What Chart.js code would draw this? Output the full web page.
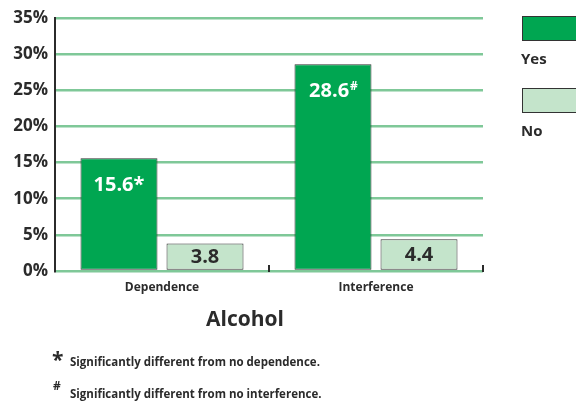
<!DOCTYPE html>
<html>
<head>
<meta charset="utf-8">
<script src="https://cdn.jsdelivr.net/npm/chart.js@4.4.1/dist/chart.umd.min.js"></script>
<style>
  html, body { margin: 0; padding: 0; background: #fff; }
  #wrap { position: relative; width: 576px; height: 402px; }
</style>
</head>
<body>
<div id="wrap"><canvas id="alcohol-chart"></canvas></div>
<script>
// categories and percentages
var categories = ['Dependence', 'Interference'];
var yesValues = [15.6, 28.6];
var noValues = [3.8, 4.4];
var yesMarks = ['*', '#'];
var seriesNames = ['Yes', 'No'];
var yTicks = [0, 5, 10, 15, 20, 25, 30, 35];
var footnotes = [
    ['*', 'Significantly different from no dependence.'],
    ['#', 'Significantly different from no interference.']
];

var FONT = "'Open Sans', sans-serif";
var DARK = '#2b2b2b';
var GREEN = '#00a651';
var PALE = '#c4e4cb';
var GRID = '#7fc898';

// value labels inside the bars
var barLabels = {
    id: 'barLabels',
    afterDatasetsDraw: function (chart) {
        var ctx = chart.ctx;
        ctx.save();
        ctx.textAlign = 'center';
        chart.data.datasets.forEach(function (ds, di) {
            chart.getDatasetMeta(di).data.forEach(function (bar, i) {
                var val = ds.data[i].toFixed(1);
                if (di === 0) {
                    var y = bar.y + 33;
                    ctx.font = 'bold 20px ' + FONT;
                    ctx.fillStyle = '#fff';
                    ctx.textBaseline = 'alphabetic';
                    var mark = yesMarks[i];
                    if (mark === '#') {
                        var w = ctx.measureText(val).width;
                        ctx.font = 'bold 12px ' + FONT;
                        var mw = ctx.measureText(mark).width;
                        var x0 = bar.x - (w + mw) / 2;
                        ctx.textAlign = 'left';
                        ctx.font = 'bold 20px ' + FONT;
                        ctx.fillText(val, x0, y);
                        ctx.font = 'bold 12px ' + FONT;
                        ctx.fillText(mark, x0 + w + 1, y - 7);
                        ctx.textAlign = 'center';
                    } else {
                        ctx.fillText(val + mark, bar.x, y);
                    }
                } else {
                    ctx.font = 'bold 20px ' + FONT;
                    ctx.fillStyle = DARK;
                    ctx.textBaseline = 'middle';
                    ctx.fillText(val, bar.x, (bar.y + bar.base) / 2 + 1);
                }
            });
        });
        ctx.restore();
    }
};

// small tick marks between categories, title, legend and footnotes
var decorations = {
    id: 'decorations',
    afterDraw: function (chart) {
        var ctx = chart.ctx;
        var xs = chart.scales.x;
        var area = chart.chartArea;
        ctx.save();
        ctx.strokeStyle = DARK;
        ctx.lineWidth = 2;
        for (var i = 0; i < categories.length; i++) {
            var edge = i < categories.length - 1
                ? (xs.getPixelForValue(i) + xs.getPixelForValue(i + 1)) / 2
                : area.right;
            ctx.beginPath();
            ctx.moveTo(edge, area.bottom + 1);
            ctx.lineTo(edge, area.bottom - 6);
            ctx.stroke();
        }

        ctx.fillStyle = DARK;
        ctx.textAlign = 'center';
        ctx.textBaseline = 'alphabetic';
        ctx.font = 'bold 21px ' + FONT;
        ctx.fillText('Alcohol', 245, 326);

        // legend: swatch above the name
        var colors = [GREEN, PALE];
        ctx.textAlign = 'left';
        seriesNames.forEach(function (name, k) {
            var top = 16 + k * 72;
            ctx.fillStyle = colors[k];
            ctx.fillRect(522, top, 60, 25);
            ctx.strokeStyle = '#333';
            ctx.lineWidth = 1;
            ctx.strokeRect(522.5, top + 0.5, 60, 24);
            ctx.fillStyle = DARK;
            ctx.font = 'bold 15px ' + FONT;
            ctx.fillText(name, 521, top + 48);
        });

        // footnotes
        footnotes.forEach(function (f, k) {
            var y = 366 + k * 32;
            ctx.fillStyle = DARK;
            if (f[0] === '*') {
                ctx.font = 'bold 21px ' + FONT;
                ctx.fillText(f[0], 52, y + 1);
            } else {
                ctx.font = 'bold 12px ' + FONT;
                ctx.fillText(f[0], 53, y - 8);
            }
            ctx.font = 'bold 11.5px ' + FONT;
            ctx.fillText(f[1], 70, y);
        });
        ctx.restore();
    }
};

new Chart(document.getElementById('alcohol-chart'), {
    type: 'bar',
    data: {
        labels: categories,
        datasets: [{
            label: seriesNames[0],
            data: yesValues,
            backgroundColor: GREEN,
            borderColor: '#333',
            borderWidth: 1,
            borderSkipped: false,
            categoryPercentage: 0.804,
            barPercentage: 0.895
        }, {
            label: seriesNames[1],
            data: noValues,
            backgroundColor: PALE,
            borderColor: '#333',
            borderWidth: 1,
            borderSkipped: false,
            categoryPercentage: 0.804,
            barPercentage: 0.895
        }]
    },
    options: {
        responsive: true,
        maintainAspectRatio: false,
        animation: false,
        layout: { padding: { left: 0, top: 18, right: 93, bottom: 106 } },
        plugins: {
            legend: { display: false },
            tooltip: { enabled: false }
        },
        scales: {
            x: {
                grid: { display: false },
                border: { color: GRID, width: 2 },
                ticks: {
                    color: DARK,
                    font: { family: FONT, size: 12, weight: 'bold' },
                    padding: 1
                },
                afterFit: function (scale) { scale.height = 25; }
            },
            y: {
                min: 0,
                max: 35,
                afterBuildTicks: function (scale) {
                    scale.ticks = yTicks.map(function (v) { return { value: v }; });
                },
                grid: { color: GRID, lineWidth: 2.5, drawTicks: false },
                border: { color: DARK, width: 2 },
                ticks: {
                    color: DARK,
                    padding: 7,
                    font: { family: FONT, size: 17, weight: 'bold' },
                    callback: function (v) { return v + '%'; }
                },
                afterFit: function (scale) { scale.width = 55; }
            }
        }
    },
    plugins: [barLabels, decorations]
});
</script>
</body>
</html>
